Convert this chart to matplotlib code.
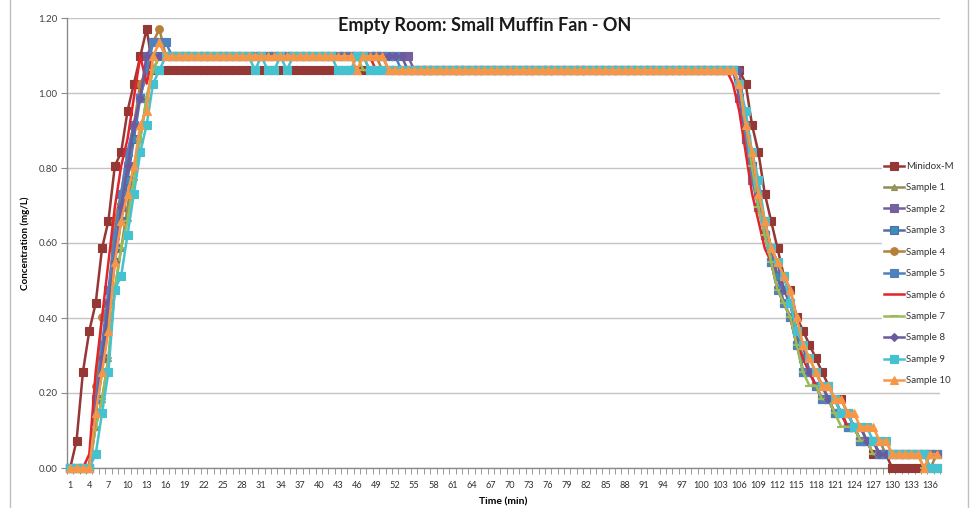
import matplotlib
matplotlib.use("Agg")
import matplotlib.pyplot as plt
from matplotlib.lines import Line2D
import numpy as np

plt.rcParams['font.family'] = ['Lato', 'DejaVu Sans']

time_min = list(range(1, 138))

minidox = ([0, 0.073, 0.256, 0.366, 0.439, 0.586, 0.659, 0.805, 0.842, 0.952, 1.025, 1.098, 1.171, 1.061, 1.061, 1.061]
           + [1.061] * 88
           + [1.061, 1.061, 1.025, 0.915, 0.842, 0.732, 0.659, 0.586, 0.512, 0.476, 0.403, 0.366, 0.329, 0.293,
              0.256, 0.22, 0.183, 0.183, 0.146, 0.11, 0.073, 0.073, 0.037, 0.037, 0.037]
           + [0] * 8)

sample1 = ([0, 0, 0, 0, 0.11, 0.183, 0.293, 0.476, 0.586, 0.695, 0.805, 0.878, 0.988, 1.061, 1.098, 1.098]
           + [1.098] * 31 + [1.061] * 57
           + [1.061, 1.025, 0.915, 0.842, 0.732, 0.659, 0.586, 0.512, 0.476, 0.439, 0.366, 0.293, 0.256, 0.256,
              0.22, 0.183, 0.183, 0.146, 0.146, 0.11, 0.11, 0.073, 0.073, 0.073, 0.037]
           + [0.037] * 5 + [0.037, 0, 0.037])

sample2 = ([0, 0, 0, 0, 0.183, 0.293, 0.439, 0.586, 0.695, 0.805, 0.915, 0.988, 1.098, 1.135, 1.135, 1.098]
           + [1.098] * 38 + [1.061] * 50
           + [1.061, 0.988, 0.878, 0.805, 0.732, 0.659, 0.586, 0.512, 0.476, 0.439, 0.366, 0.256, 0.256, 0.22,
              0.183, 0.183, 0.146, 0.146, 0.11, 0.11, 0.11, 0.073, 0.073, 0.037, 0.037]
           + [0.037] * 8)

sample3 = ([0, 0, 0, 0, 0.146, 0.256, 0.403, 0.549, 0.659, 0.769, 0.878, 0.988, 1.061, 1.098, 1.098, 1.098]
           + [1.098] * 34 + [1.061] * 54
           + [1.061, 1.025, 0.878, 0.805, 0.695, 0.622, 0.549, 0.512, 0.439, 0.403, 0.329, 0.293, 0.256, 0.22,
              0.22, 0.183, 0.146, 0.146, 0.11, 0.11, 0.073, 0.073, 0.073, 0.037, 0.037]
           + [0.037] * 8)

sample4 = ([0, 0, 0, 0, 0.22, 0.403, 0.439, 0.659, 0.732, 0.842, 0.915, 1.025, 1.061, 1.135, 1.171, 1.098]
           + [1.098] * 33 + [1.061] * 55
           + [1.061, 1.025, 0.915, 0.842, 0.732, 0.659, 0.586, 0.549, 0.476, 0.439, 0.366, 0.329, 0.256, 0.256,
              0.22, 0.183, 0.183, 0.146, 0.11, 0.11, 0.11, 0.073, 0.073, 0.037, 0.037]
           + [0.037] * 8)

sample5 = ([0, 0, 0, 0, 0.183, 0.329, 0.476, 0.622, 0.732, 0.842, 0.915, 0.988, 1.061, 1.135, 1.135, 1.135]
           + [1.098] * 36 + [1.061] * 52
           + [1.061, 1.025, 0.878, 0.769, 0.695, 0.622, 0.549, 0.476, 0.439, 0.403, 0.329, 0.256, 0.256, 0.22,
              0.183, 0.183, 0.146, 0.146, 0.11, 0.11, 0.073, 0.073, 0.073, 0.037, 0.037]
           + [0.037] * 8)

sample6 = ([0, 0, 0, 0.037, 0.256, 0.403, 0.549, 0.695, 0.805, 0.878, 0.988, 1.098, 1.025, 1.098, 1.098, 1.098]
           + [1.098] * 32 + [1.061] * 56
           + [1.025, 0.952, 0.842, 0.732, 0.659, 0.586, 0.549, 0.476, 0.439, 0.403, 0.329, 0.293, 0.256, 0.22,
              0.183, 0.183, 0.146, 0.146, 0.11, 0.11, 0.073, 0.073, 0.037, 0.037, 0.037]
           + [0.037] * 8)

sample7 = ([0, 0, 0, 0, 0.11, 0.183, 0.293, 0.476, 0.586, 0.659, 0.769, 0.878, 0.988, 1.061, 1.098, 1.098]
           + [1.098] * 30 + [1.061] * 58
           + [1.061, 1.025, 0.915, 0.805, 0.695, 0.622, 0.549, 0.476, 0.439, 0.403, 0.329, 0.256, 0.22, 0.22,
              0.183, 0.183, 0.146, 0.11, 0.11, 0.11, 0.073, 0.073, 0.037, 0.037, 0.037]
           + [0.037] * 5 + [0, 0.037, 0.037])

sample8 = ([0, 0, 0, 0, 0.146, 0.293, 0.439, 0.549, 0.695, 0.805, 0.915, 0.988, 1.098, 1.098, 1.098, 1.098]
           + [1.098] * 37 + [1.061] * 51
           + [1.061, 1.061, 0.915, 0.842, 0.732, 0.659, 0.586, 0.549, 0.476, 0.439, 0.366, 0.329, 0.256, 0.256,
              0.22, 0.183, 0.183, 0.146, 0.146, 0.11, 0.11, 0.073, 0.073, 0.037, 0.037]
           + [0.037] * 8)

sample9 = ([0, 0, 0, 0, 0.037, 0.146, 0.256, 0.476, 0.512, 0.622, 0.732, 0.842, 0.915, 1.025, 1.061, 1.098]
           + [1.098] * 13 + [1.061] + [1.098] + [1.061] * 2 + [1.098] + [1.061] + [1.098] * 7
           + [1.061] * 3 + [1.098] * 2 + [1.061] * 57
           + [1.061, 1.025, 0.952, 0.842, 0.769, 0.659, 0.586, 0.549, 0.512, 0.439, 0.366, 0.329, 0.293, 0.256,
              0.22, 0.22, 0.183, 0.146, 0.146, 0.11, 0.11, 0.11, 0.073, 0.073, 0.073]
           + [0.037] * 6 + [0, 0])

sample10 = ([0, 0, 0, 0, 0.146, 0.256, 0.366, 0.549, 0.659, 0.732, 0.805, 0.915, 0.952, 1.098, 1.135, 1.098]
            + [1.098] * 29 + [1.061] + [1.098] * 4 + [1.061] * 54
            + [1.061, 1.025, 0.915, 0.842, 0.732, 0.659, 0.586, 0.549, 0.512, 0.476, 0.403, 0.329, 0.293, 0.256,
               0.22, 0.22, 0.183, 0.183, 0.146, 0.146, 0.11, 0.11, 0.11, 0.073, 0.073]
            + [0.037] * 5 + [0, 0.037, 0.037])

series_names = ["Minidox-M", "Sample 1", "Sample 2", "Sample 3", "Sample 4", "Sample 5",
                "Sample 6", "Sample 7", "Sample 8", "Sample 9", "Sample 10"]
series_values = [minidox, sample1, sample2, sample3, sample4, sample5,
                 sample6, sample7, sample8, sample9, sample10]

# styles: (line colour, marker, marker face colour, marker size)
styles = [
    ('#953735', 's', '#953735', 5.5),
    ('#948A54', '^', '#8FA35A', 5.0),
    ('#7460A0', 's', '#7460A0', 5.5),
    ('#4F6EA8', 's', '#3C8DBC', 5.5),
    ('#B5803A', 'o', '#B5803A', 5.5),
    ('#4F81BD', 's', '#4F81BD', 5.5),
    ('#E3242B', None, '#E3242B', 0),
    ('#9BBB59', '_', '#9BBB59', 6.0),
    ('#6B5B9E', 'D', '#6B5B9E', 4.0),
    ('#45C2CF', 's', '#45C2CF', 5.5),
    ('#F79646', '^', '#F79646', 6.0),
]

W, H = 976, 508
fig = plt.figure(figsize=(W / 100, H / 100), dpi=100)
ax = fig.add_axes([67 / W, 1 - 468 / H, (940 - 67) / W, (468 - 18) / H])

x = np.array(time_min)
for name, vals, (c, m, mfc, ms) in zip(series_names, series_values, styles):
    ax.plot(x, vals, color=c, lw=1.8, marker=m, markersize=ms, markerfacecolor=mfc,
            markeredgecolor=c, markeredgewidth=1.5 if m == '_' else 0.8,
            label=name, clip_on=False, zorder=3)

ax.set_xlim(0.5, len(time_min) + 0.5)
ax.set_ylim(0, 1.2)
ax.set_yticks(np.arange(0, 1.21, 0.2))
ax.set_yticklabels([f"{v:.2f}" for v in np.arange(0, 1.21, 0.2)], fontsize=7, color='#404040')
ax.yaxis.grid(True, color='#C4C4C4', lw=1.0, zorder=0)
ax.set_axisbelow(True)

major = time_min[::3]
ax.set_xticks(major)
ax.set_xticklabels([str(t) for t in major], fontsize=6.6, color='#303030')
ax.set_xticks(np.arange(0.5, len(time_min) + 1, 1), minor=True)
ax.tick_params(axis='x', which='major', length=0, pad=9)
ax.tick_params(axis='x', which='minor', length=4, color='#8A8A8A', direction='out')
ax.tick_params(axis='y', length=4, color='#8A8A8A', direction='out', pad=3)

for s in ['top', 'right']:
    ax.spines[s].set_visible(False)
for s in ['left', 'bottom']:
    ax.spines[s].set_color('#8A8A8A')
    ax.spines[s].set_linewidth(1.0)

ax.set_xlabel("Time (min)", fontsize=7.5, fontweight='bold', labelpad=6)
ax.set_ylabel("Concentration (mg/L)", fontsize=7, fontweight='bold', labelpad=6)

fig.text(485 / W, 1 - 25 / H, "Empty Room: Small Muffin Fan - ON", ha='center', va='center',
         fontsize=13, fontweight='bold', color='#1A1A1A')

leg = ax.legend(loc='upper left', bbox_to_anchor=(882 / W, 1 - 160 / H), bbox_transform=fig.transFigure,
                frameon=True, fontsize=7, handlelength=2.1, labelspacing=1.28, borderpad=0.2,
                handletextpad=0.2, borderaxespad=0)
leg.get_frame().set_facecolor('white')
leg.get_frame().set_edgecolor('none')
leg.get_frame().set_alpha(1)
for t in leg.get_texts():
    t.set_color('#333333')

fig.add_artist(Line2D([968 / W, 968 / W], [0, 1], color='#BFBFBF', lw=1.0))
fig.add_artist(Line2D([10 / W, 10 / W], [0, 1], color='#BFBFBF', lw=1.0))

fig.savefig("out.png", dpi=100)
